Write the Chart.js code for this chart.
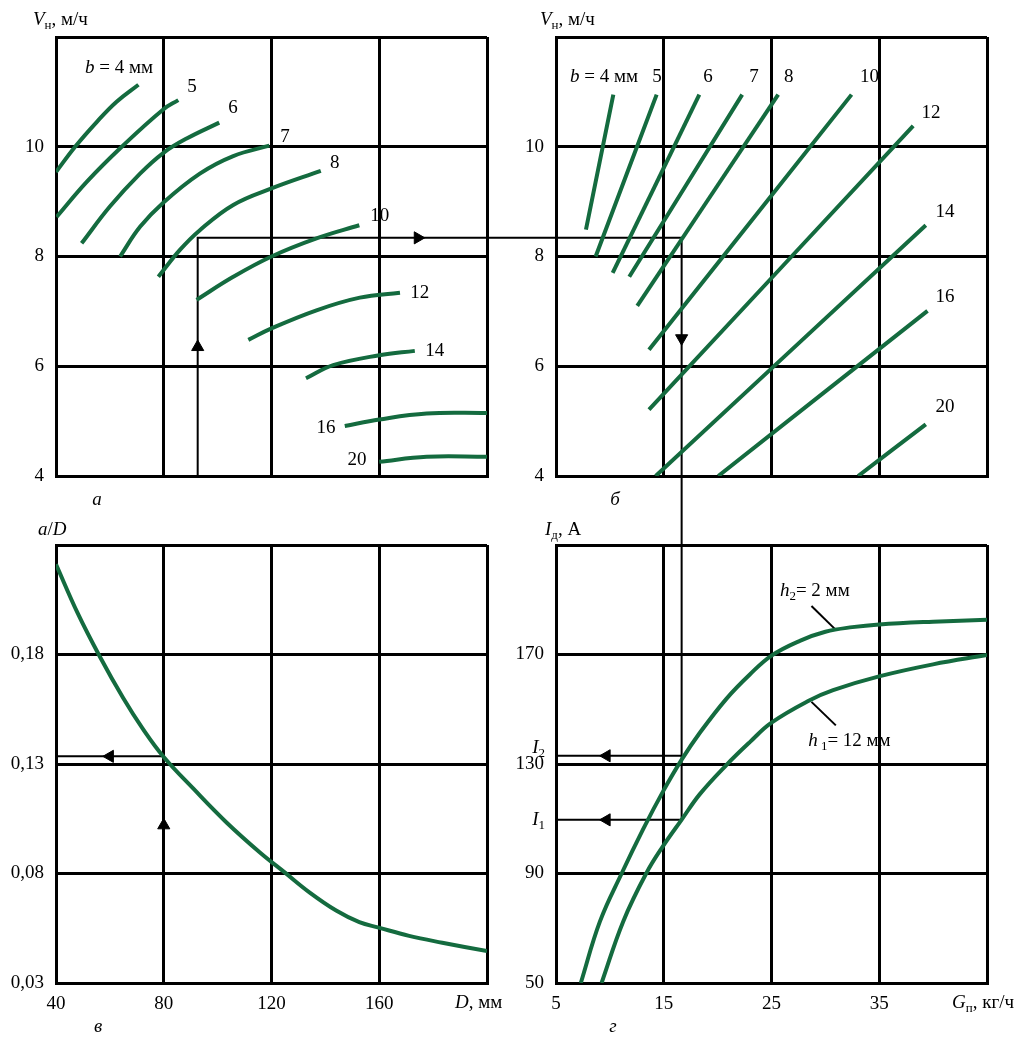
<!DOCTYPE html>
<html lang="ru">
<head>
<meta charset="UTF-8">
<title>Номограмма</title>
<script src="https://cdn.jsdelivr.net/npm/chart.js"></script>
<style>
  body { margin: 0; background: #fff; }
  #wrap { position: relative; width: 1018px; height: 1039px; }
  canvas { position: absolute; }
</style>
</head>
<body>
<div id="wrap">
  <canvas id="grA" width="520" height="520" style="left:0;top:0"></canvas>
  <canvas id="grB" width="498" height="520" style="left:520px;top:0"></canvas>
  <canvas id="grV" width="510" height="519" style="left:0;top:520px"></canvas>
  <canvas id="grG" width="508" height="519" style="left:510px;top:520px"></canvas>
</div>
<script>
  // шкалы
  const tickD = [40, 80, 120, 160, 200];
  const tickV = [4, 6, 8, 10, 12];
  const tickG = [5, 15, 25, 35, 45];
  const tickAD = [0.03, 0.08, 0.13, 0.18, 0.23];
  const tickI = [50, 90, 130, 170, 210];

  // а) V_н от D при разной ширине b
  const aB4 = [[40, 9.54], [47.1, 10], [55.1, 10.45], [62.5, 10.82], [70.6, 11.13]];
  const aB5 = [[40.2, 8.72], [51.4, 9.36], [64.4, 10], [79.8, 10.68], [85.4, 10.85]];
  const aB6 = [[49.5, 8.24], [60, 8.91], [71.2, 9.51], [79.9, 9.89], [88.5, 10.15], [100.6, 10.44]];
  const aB7 = [[63.8, 8.0], [71.2, 8.54], [79.8, 8.98], [93.4, 9.51], [105.8, 9.83], [119.2, 10.02]];
  const aB8 = [[78, 7.63], [86, 8.12], [93.4, 8.48], [105.8, 8.94], [120, 9.24], [138.3, 9.56]];
  const aB10 = [[92.2, 7.21], [105.8, 7.63], [120, 8.0], [136.7, 8.33], [152.6, 8.57]];
  const aB12 = [[111.4, 6.48], [120, 6.69], [136.7, 7.02], [152.8, 7.25], [167.7, 7.34]];
  const aB14 = [[132.8, 5.78], [142.9, 6.02], [160, 6.2], [173.2, 6.28]];
  const aB16 = [[147.2, 4.91], [160, 5.03], [177.6, 5.14], [200, 5.15]];
  const aB20 = [[160, 4.26], [177.6, 4.35], [200, 4.35]];

  // б) V_н от G_п
  const bB4 = [[7.78, 8.49], [10.32, 10.95]];
  const bB5 = [[8.68, 8.0], [14.34, 10.95]];
  const bB6 = [[10.26, 7.70], [18.30, 10.95]];
  const bB7 = [[11.80, 7.63], [22.28, 10.95]];
  const bB8 = [[12.54, 7.10], [25.62, 10.95]];
  const bB10 = [[13.63, 6.30], [32.43, 10.95]];
  const bB12 = [[13.63, 5.21], [38.15, 10.38]];
  const bB14 = [[14.25, 4.0], [39.32, 8.57]];
  const bB16 = [[20.06, 4.0], [39.48, 7.01]];
  const bB20 = [[33.04, 4.0], [39.32, 4.94]];

  // в) a/D от D
  const vD = [40, 48, 56.3, 65, 72, 80, 91.1, 103.4, 115.7, 124.9, 134.2, 144, 152.6, 159.8, 171.1, 183.4, 200];
  const vAD = [0.2212, 0.199, 0.179, 0.160, 0.1465, 0.1332, 0.1186, 0.1032, 0.0896, 0.0805, 0.0713, 0.0631, 0.0578, 0.0553, 0.0515, 0.0484, 0.0446];

  // г) I_д от G_п
  const gG2 = [7.3, 9.08, 11.09, 13.1, 14.95, 16.65, 18.35, 20.83, 22.99, 25, 27.63, 30, 32.5, 35, 40, 45];
  const gI2 = [50, 72.5, 90, 106.3, 120.1, 131.5, 141.4, 153.9, 162.7, 169.6, 175.0, 178.3, 180.0, 181.0, 182.0, 182.7];
  const gG1 = [9.23, 11.24, 13.41, 14.95, 16.65, 18.35, 20.83, 22.99, 25, 28.55, 30.72, 34.98, 39.99, 45];
  const gI1 = [50, 72.5, 90.3, 100.1, 109.6, 119.0, 129.7, 138.0, 145.1, 153.3, 157, 162, 166.4, 169.8];

  // ход решения
  const pathA = [[92.6, 4], [92.6, 8.34], [320, 8.34]];
  const pathB = [[-30, 8.34], [16.66, 8.34], [16.66, -2]];
  const pathV = [[40, 0.1335], [80, 0.1335]];
  const pathG1 = [[16.66, 300], [16.66, 109.6], [5, 109.6]];
  const pathG2 = [[16.66, 133], [5, 133]];
  const leadH2 = [[28.71, 187.7], [30.97, 179.0]];
  const leadH1 = [[28.71, 152.7], [30.97, 144.1]];
  // стрелки [x, y, поворот]
  const arrA = [[92.6, 6.35, 0], [174.3, 8.34, 90]];
  const arrB = [[16.66, 6.51, 180]];
  const arrV = [[80, 0.102, 0], [60, 0.1335, 270]];
  const arrG = [[9.7, 133, 270], [9.7, 109.6, 270]];

  const GREEN = '#146b3f';
  const FONT = '"Liberation Serif", "Times New Roman", serif';

  const pts = arr => arr.map(p => ({ x: p[0], y: p[1] }));
  const zip = (xs, ys) => xs.map((x, i) => [x, ys[i]]);

  function curve(arr) {
    return { data: pts(arr), showLine: true, borderColor: GREEN, borderWidth: 4, pointRadius: 0, tension: 0.4 };
  }
  function path(arr) {
    return { data: pts(arr), showLine: true, borderColor: '#000', borderWidth: 2, pointRadius: 0, clip: false };
  }
  function arrows(arr) {
    return {
      data: pts(arr), showLine: false, pointStyle: 'triangle', pointRadius: 7,
      pointRotation: arr.map(p => p[2]), backgroundColor: '#000', borderColor: '#000', borderWidth: 1, clip: false
    };
  }

  function drawRich(ctx, parts, x, y, align, size) {
    const fonts = parts.map(p => (p.i ? 'italic ' : '') + Math.round(p.sub ? size * 0.7 : size) + 'px ' + FONT);
    let w = 0;
    const ws = parts.map((p, k) => { ctx.font = fonts[k]; const m = ctx.measureText(p.t).width; w += m; return m; });
    let cx = align === 'left' ? x : (align === 'right' ? x - w : x - w / 2);
    ctx.save();
    ctx.fillStyle = '#000';
    ctx.textBaseline = 'middle';
    ctx.textAlign = 'left';
    parts.forEach((p, k) => {
      ctx.font = fonts[k];
      ctx.fillText(p.t, cx, y + (p.sub ? size * 0.3 : 0));
      cx += ws[k];
    });
    ctx.restore();
  }

  // подписи: либо в единицах осей (x, y), либо в пикселях от угла поля (px, py)
  function textLayer(items) {
    return {
      id: 'textLayer',
      afterDraw(chart) {
        const ca = chart.chartArea;
        items.forEach(it => {
          let px, py;
          if (it.px !== undefined) { px = ca.left + it.px; py = ca.top + it.py; }
          else { px = chart.scales.x.getPixelForValue(it.x); py = chart.scales.y.getPixelForValue(it.y); }
          drawRich(chart.ctx, it.parts, px, py, it.align || 'center', it.size || 19);
        });
      }
    };
  }

  function axis(ticksArr, fmt, showLabels, dir, size) {
    return {
      type: 'linear',
      min: ticksArr[0],
      max: ticksArr[ticksArr.length - 1],
      afterBuildTicks: s => { s.ticks = ticksArr.map(v => ({ value: v })); },
      afterFit: s => {
        if (dir === 'y') s.width = size; else s.height = size;
        s.paddingLeft = s.paddingRight = s.paddingTop = s.paddingBottom = 0;
      },
      grid: { color: '#000', lineWidth: 3, drawTicks: false },
      border: { display: true, color: '#000', width: 3 },
      ticks: {
        display: showLabels, color: '#000', font: { family: FONT, size: 19 },
        padding: dir === 'y' ? 12 : 10, maxRotation: 0, autoSkip: false, callback: fmt
      }
    };
  }

  function panel(id, xt, yt, fx, fy, showX, yw, xh, pad, datasets, items) {
    return new Chart(document.getElementById(id), {
      type: 'scatter',
      data: { datasets: datasets },
      options: {
        responsive: false, animation: false, events: [],
        layout: { padding: pad },
        plugins: { legend: { display: false }, tooltip: { enabled: false } },
        scales: { x: axis(xt, fx, showX, 'x', xh), y: axis(yt, fy, true, 'y', yw) }
      },
      plugins: [textLayer(items)]
    });
  }

  const fmtV = v => v === 12 ? '' : String(v);
  const fmtD = v => v === 200 ? '' : String(v);
  const fmtG = v => v === 45 ? '' : String(v);
  const fmtAD = v => v > 0.2 ? '' : v.toFixed(2).replace('.', ',');
  const fmtI = v => v === 210 ? '' : String(v);
  const num = t => [{ t: t }];
  const titleV = [{ t: 'V', i: 1 }, { t: 'н', sub: 1 }, { t: ', м/ч' }];

  // а
  panel('grA', tickD, tickV, fmtD, fmtV, false, 56, 44, { left: 0, right: 33, top: 37, bottom: 0 },
    [curve(aB4), curve(aB5), curve(aB6), curve(aB7), curve(aB8), curve(aB10), curve(aB12), curve(aB14), curve(aB16), curve(aB20),
     path(pathA), arrows(arrA)],
    [
      { px: -23, py: -17, align: 'left', parts: titleV },
      { px: 41, py: 463, parts: [{ t: 'а', i: 1 }] },
      { x: 50.8, y: 11.43, align: 'left', parts: [{ t: 'b', i: 1 }, { t: ' = 4 мм' }] },
      { x: 90.5, y: 11.09, parts: num('5') },
      { x: 105.7, y: 10.70, parts: num('6') },
      { x: 125.0, y: 10.17, parts: num('7') },
      { x: 143.5, y: 9.70, parts: num('8') },
      { x: 160.2, y: 8.74, parts: num('10') },
      { x: 175.0, y: 7.33, parts: num('12') },
      { x: 180.6, y: 6.28, parts: num('14') },
      { x: 140.2, y: 4.87, parts: num('16') },
      { x: 151.7, y: 4.29, parts: num('20') }
    ]);

  // б
  panel('grB', tickG, tickV, fmtG, fmtV, false, 36, 44, { left: 0, right: 31, top: 37, bottom: 0 },
    [curve(bB4), curve(bB5), curve(bB6), curve(bB7), curve(bB8), curve(bB10), curve(bB12), curve(bB14), curve(bB16), curve(bB20),
     path(pathB), arrows(arrB)],
    [
      { px: -16, py: -17, align: 'left', parts: titleV },
      { px: 59, py: 463, parts: [{ t: 'б', i: 1 }] },
      { x: 6.3, y: 11.27, align: 'left', parts: [{ t: 'b', i: 1 }, { t: ' = 4 мм' }] },
      { x: 14.37, y: 11.27, parts: num('5') },
      { x: 19.1, y: 11.27, parts: num('6') },
      { x: 23.37, y: 11.27, parts: num('7') },
      { x: 26.6, y: 11.27, parts: num('8') },
      { x: 34.1, y: 11.27, parts: num('10') },
      { x: 39.8, y: 10.61, parts: num('12') },
      { x: 41.1, y: 8.81, parts: num('14') },
      { x: 41.1, y: 7.26, parts: num('16') },
      { x: 41.1, y: 5.26, parts: num('20') }
    ]);

  // в
  panel('grV', tickD, tickAD, fmtD, fmtAD, true, 56, 56, { left: 0, right: 23, top: 25, bottom: 0 },
    [curve(zip(vD, vAD)), path(pathV), arrows(arrV)],
    [
      { px: -18, py: -15, align: 'left', parts: [{ t: 'a', i: 1 }, { t: '/' }, { t: 'D', i: 1 }] },
      { px: 42, py: 482, parts: [{ t: 'в', i: 1 }] },
      { px: 399, py: 458, align: 'left', parts: [{ t: 'D', i: 1 }, { t: ', мм' }] }
    ]);

  // г
  panel('grG', tickG, tickI, fmtG, fmtI, true, 46, 56, { left: 0, right: 31, top: 25, bottom: 0 },
    [curve(zip(gG2, gI2)), curve(zip(gG1, gI1)), path(pathG1), path(pathG2), path(leadH2), path(leadH1), arrows(arrG)],
    [
      { px: -11, py: -15, align: 'left', parts: [{ t: 'I', i: 1 }, { t: 'д', sub: 1 }, { t: ', А' }] },
      { px: 57, py: 482, parts: [{ t: 'г', i: 1 }] },
      { px: 396, py: 458, align: 'left', parts: [{ t: 'G', i: 1 }, { t: 'п', sub: 1 }, { t: ', кг/ч' }] },
      { px: -11, py: 203, align: 'right', parts: [{ t: 'I', i: 1 }, { t: '2', sub: 1 }] },
      { px: -11, py: 275, align: 'right', parts: [{ t: 'I', i: 1 }, { t: '1', sub: 1 }] },
      { x: 25.78, y: 193.2, align: 'left', parts: [{ t: 'h', i: 1 }, { t: '2', sub: 1 }, { t: '= 2 мм' }] },
      { x: 28.4, y: 138.5, align: 'left', parts: [{ t: 'h', i: 1 }, { t: ' 1', sub: 1 }, { t: '= 12 мм' }] }
    ]);
</script>
</body>
</html>
